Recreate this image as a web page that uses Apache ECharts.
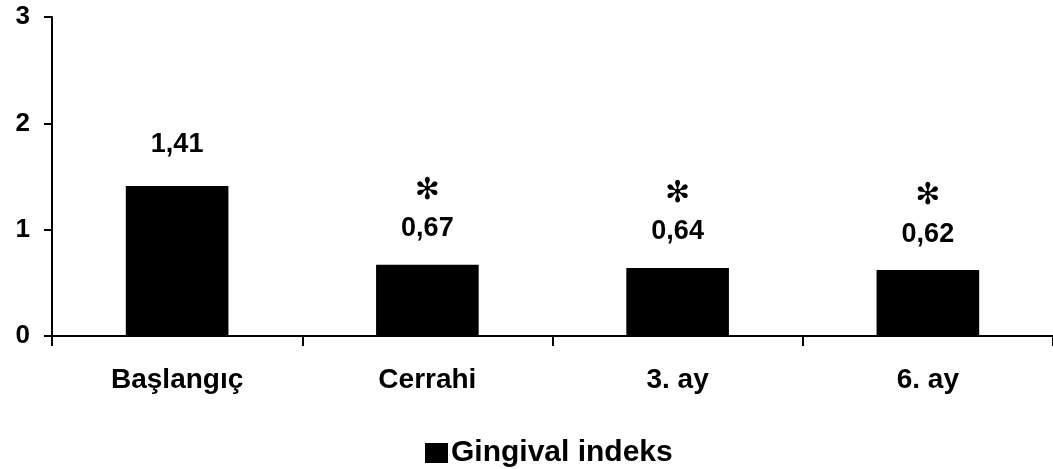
<!DOCTYPE html>
<html>
<head>
<meta charset="utf-8">
<script src="https://cdn.jsdelivr.net/npm/echarts@6/dist/echarts.min.js"></script>
<style>
html,body{margin:0;padding:0;background:#fff;}
#chart{width:1053px;height:469px;}
</style>
</head>
<body>
<div id="chart"></div>
<script>
const categories = ['Başlangıç', 'Cerrahi', '3. ay', '6. ay'];
const seriesName = 'Gingival indeks';
const values = [1.41, 0.67, 0.64, 0.62];
const marks = ['', '\u273B', '\u273B', '\u273B'];
const yTicks = [0, 1, 2, 3];

const FONT = '"Liberation Sans", Arial, sans-serif';
const chart = echarts.init(document.getElementById('chart'));

const data = values.map((v, i) => ({
  value: v,
  label: { distance: marks[i] ? 22 : 28 }
}));

chart.setOption({
  animation: false,
  backgroundColor: '#fff',
  textStyle: { fontFamily: FONT, color: '#000' },
  grid: { left: 52, top: 17, height: 319, width: 1006, containLabel: false },
  legend: {
    data: [seriesName],
    left: 420,
    top: 433,
    icon: 'rect',
    itemWidth: 23,
    itemHeight: 20,
    itemGap: 4,
    textStyle: { fontFamily: FONT, fontSize: 30, fontWeight: 'bold', color: '#000', padding: [0,0,0,-2] }
  },
  xAxis: {
    type: 'category',
    data: categories,
    boundaryGap: true,
    axisLine: { lineStyle: { color: '#000', width: 2 } },
    axisTick: { show: true, length: 10, lineStyle: { color: '#000', width: 2 } },
    axisLabel: { margin: 30, fontFamily: FONT, fontSize: 28, fontWeight: 'bold', color: '#000', lineHeight: 28 }
  },
  yAxis: {
    type: 'value',
    min: yTicks[0],
    max: yTicks[yTicks.length - 1],
    interval: 1,
    splitLine: { show: false },
    axisLine: { show: true, lineStyle: { color: '#000', width: 2 } },
    axisTick: { show: true, length: 8, lineStyle: { color: '#000', width: 2 } },
    axisLabel: { margin: 22, fontFamily: FONT, fontSize: 26, fontWeight: 'bold', color: '#000' }
  },
  series: [{
    name: seriesName,
    type: 'bar',
    data: data,
    barWidth: '41%',
    itemStyle: { color: '#000' },
    label: {
      show: true,
      position: 'top',
      formatter: function (p) {
        const txt = p.value.toFixed(2).replace('.', ',');
        const m = marks[p.dataIndex];
        return m ? '{s|' + m + '}\n{v|' + txt + '}' : '{v|' + txt + '}';
      },
      rich: {
        v: { fontFamily: FONT, fontSize: 27, fontWeight: 'bold', color: '#000', lineHeight: 28 },
        s: { fontFamily: '"DejaVu Sans", sans-serif', fontSize: 30, color: '#000', lineHeight: 48 }
      }
    }
  }]
});
</script>
</body>
</html>
